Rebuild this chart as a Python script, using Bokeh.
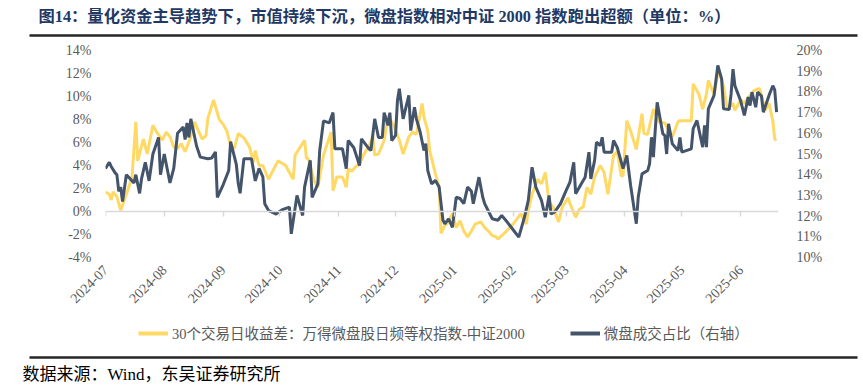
import math
import pandas as pd
from bokeh.plotting import figure
from bokeh.layouts import column
from bokeh.models import (Range1d, LinearAxis, DatetimeAxis, FixedTicker, PrintfTickFormatter,
                          DatetimeTickFormatter, Legend, LegendItem, Label)
from bokeh.embed import file_html
from bokeh.resources import INLINE

title_text = "图14：量化资金主导趋势下，市值持续下沉，微盘指数相对中证 2000 指数跑出超额（单位：%）"
source_text = "数据来源：Wind，东吴证券研究所"
series_names = ["30个交易日收益差：万得微盘股日频等权指数-中证2000", "微盘成交占比（右轴）"]
month_labels = ["2024-07", "2024-08", "2024-09", "2024-10", "2024-11", "2024-12",
                "2025-01", "2025-02", "2025-03", "2025-04", "2025-05", "2025-06"]
left_ticks = [-4, -2, 0, 2, 4, 6, 8, 10, 12, 14]
right_ticks = [10, 11, 12, 13, 14, 15, 16, 17, 18, 19, 20]

spread_dates = [
    "2024-07-01", "2024-07-03", "2024-07-04", "2024-07-05", "2024-07-06", "2024-07-07", "2024-07-09", "2024-07-12", "2024-07-15", "2024-07-17",
    "2024-07-18", "2024-07-21", "2024-07-23", "2024-07-26", "2024-07-28", "2024-07-31", "2024-08-02", "2024-08-04", "2024-08-06", "2024-08-08",
    "2024-08-10", "2024-08-12", "2024-08-15", "2024-08-17", "2024-08-19", "2024-08-21", "2024-08-23", "2024-08-24", "2024-08-27", "2024-08-30",
    "2024-09-01", "2024-09-03", "2024-09-05", "2024-09-07", "2024-09-09", "2024-09-12", "2024-09-15", "2024-09-17", "2024-09-18", "2024-09-20",
    "2024-09-22", "2024-09-25", "2024-09-30", "2024-10-04", "2024-10-08", "2024-10-09", "2024-10-14", "2024-10-15", "2024-10-16", "2024-10-19",
    "2024-10-21", "2024-10-24", "2024-10-28", "2024-10-29", "2024-10-31", "2024-11-03", "2024-11-05", "2024-11-06", "2024-11-08", "2024-11-10",
    "2024-11-12", "2024-11-14", "2024-11-17", "2024-11-19", "2024-11-20", "2024-11-22", "2024-11-25", "2024-11-27", "2024-11-30", "2024-12-03",
    "2024-12-05", "2024-12-08", "2024-12-10", "2024-12-12", "2024-12-15", "2024-12-16", "2024-12-18", "2024-12-19", "2024-12-22", "2024-12-24",
    "2024-12-25", "2024-12-27", "2024-12-28", "2024-12-31", "2025-01-02", "2025-01-04", "2025-01-06", "2025-01-08", "2025-01-10", "2025-01-12",
    "2025-01-15", "2025-01-17", "2025-01-19", "2025-01-21", "2025-01-23", "2025-01-24", "2025-01-28", "2025-02-01", "2025-02-05", "2025-02-08",
    "2025-02-09", "2025-02-11", "2025-02-14", "2025-02-16", "2025-02-18", "2025-02-20", "2025-02-22", "2025-02-25", "2025-02-27", "2025-03-02",
    "2025-03-03", "2025-03-06", "2025-03-08", "2025-03-10", "2025-03-12", "2025-03-14", "2025-03-16", "2025-03-19", "2025-03-21", "2025-03-23",
    "2025-03-26", "2025-03-28", "2025-03-30", "2025-03-31", "2025-04-02", "2025-04-04", "2025-04-07", "2025-04-10", "2025-04-11", "2025-04-13",
    "2025-04-16", "2025-04-19", "2025-04-22", "2025-04-26", "2025-04-29", "2025-04-30", "2025-05-06", "2025-05-07", "2025-05-10", "2025-05-12",
    "2025-05-14", "2025-05-15", "2025-05-18", "2025-05-20", "2025-05-21", "2025-05-23", "2025-05-25", "2025-05-28", "2025-05-29", "2025-06-01",
    "2025-06-03", "2025-06-05", "2025-06-08", "2025-06-11", "2025-06-12", "2025-06-14", "2025-06-16", "2025-06-18", "2025-06-19", "2025-06-20",
]
spread_values = [
    1.7, 1.5, 1.0, 1.7, 1.5, 1.3, 0.1, 1.5, 3.0, 7.8,
    4.4, 6.3, 5.0, 7.5, 6.9, 6.2, 6.9, 6.5, 5.6, 5.5,
    5.9, 5.2, 6.5, 7.8, 7.0, 6.3, 6.6, 8.1, 9.7, 8.0,
    7.6, 7.0, 5.7, 5.5, 6.8, 6.4, 5.6, 4.3, 5.3, 4.0,
    4.0, 2.8, 4.4, 4.0, 2.8, 4.9, 6.2, 4.6, 4.6, 2.7,
    2.1, 4.9, 6.9, 1.8, 3.0, 3.0, 2.1, 3.7, 3.5, 3.9,
    4.1, 4.9, 5.7, 6.5, 4.9, 5.0, 6.2, 8.3, 7.5, 6.2,
    5.0, 6.5, 6.9, 6.7, 9.4, 8.2, 7.0, 5.3, 3.3, 2.1,
    -1.9, -1.2, -1.1, -0.2, -1.4, -0.8, -1.7, -2.2, -1.7, -1.1,
    -0.9, -1.4, -1.7, -2.1, -2.2, -2.4, -1.8, -1.1, -0.2, -1.1,
    0.1, 1.5, 2.8, 2.4, 3.4, 0.8, 0.4, -0.9, 0.4, 1.2,
    0.7, -0.5, 0.2, 0.4, 2.1, 1.5, 3.0, 4.0, 3.4, 1.5,
    4.9, 5.2, 3.1, 3.1, 7.9, 7.0, 5.4, 8.5, 6.8, 6.7,
    8.9, 7.8, 7.7, 6.5, 7.8, 7.9, 7.9, 11.1, 10.2, 8.9,
    10.2, 11.4, 10.2, 12.0, 12.0, 10.9, 8.9, 9.4, 8.8, 9.7,
    9.4, 9.9, 10.5, 10.7, 10.1, 8.8, 9.4, 7.9, 6.3, 6.2,
]

share_dates = [
    "2024-07-01", "2024-07-03", "2024-07-04", "2024-07-06", "2024-07-07", "2024-07-08", "2024-07-09", "2024-07-10", "2024-07-12", "2024-07-14",
    "2024-07-16", "2024-07-17", "2024-07-19", "2024-07-20", "2024-07-22", "2024-07-24", "2024-07-26", "2024-07-29", "2024-07-30", "2024-08-01",
    "2024-08-04", "2024-08-06", "2024-08-08", "2024-08-11", "2024-08-12", "2024-08-13", "2024-08-14", "2024-08-15", "2024-08-18", "2024-08-20",
    "2024-08-24", "2024-08-26", "2024-08-28", "2024-08-29", "2024-09-01", "2024-09-04", "2024-09-05", "2024-09-08", "2024-09-09", "2024-09-10",
    "2024-09-12", "2024-09-16", "2024-09-18", "2024-09-20", "2024-09-22", "2024-09-23", "2024-09-25", "2024-09-29", "2024-10-02", "2024-10-06",
    "2024-10-07", "2024-10-10", "2024-10-13", "2024-10-14", "2024-10-17", "2024-10-18", "2024-10-21", "2024-10-22", "2024-10-24", "2024-10-27",
    "2024-10-29", "2024-10-30", "2024-11-03", "2024-11-05", "2024-11-06", "2024-11-09", "2024-11-12", "2024-11-13", "2024-11-17", "2024-11-18",
    "2024-11-20", "2024-11-22", "2024-11-24", "2024-11-25", "2024-11-27", "2024-11-28", "2024-11-29", "2024-12-01", "2024-12-02", "2024-12-03",
    "2024-12-05", "2024-12-08", "2024-12-09", "2024-12-11", "2024-12-12", "2024-12-14", "2024-12-16", "2024-12-17", "2024-12-18", "2024-12-20",
    "2024-12-22", "2024-12-24", "2024-12-26", "2024-12-27", "2024-12-29", "2024-12-31", "2025-01-02", "2025-01-04", "2025-01-06", "2025-01-08",
    "2025-01-10", "2025-01-11", "2025-01-14", "2025-01-16", "2025-01-17", "2025-01-21", "2025-01-24", "2025-01-26", "2025-01-29", "2025-01-31",
    "2025-02-04", "2025-02-07", "2025-02-09", "2025-02-11", "2025-02-13", "2025-02-16", "2025-02-18", "2025-02-20", "2025-02-21", "2025-02-23",
    "2025-02-26", "2025-03-01", "2025-03-03", "2025-03-05", "2025-03-06", "2025-03-09", "2025-03-11", "2025-03-13", "2025-03-14", "2025-03-16",
    "2025-03-17", "2025-03-19", "2025-03-20", "2025-03-21", "2025-03-25", "2025-03-26", "2025-03-28", "2025-03-31", "2025-04-02", "2025-04-04",
    "2025-04-07", "2025-04-08", "2025-04-10", "2025-04-13", "2025-04-14", "2025-04-15", "2025-04-16", "2025-04-18", "2025-04-21", "2025-04-22",
    "2025-04-23", "2025-04-24", "2025-04-26", "2025-04-29", "2025-04-30", "2025-05-01", "2025-05-06", "2025-05-07", "2025-05-09", "2025-05-12",
    "2025-05-13", "2025-05-14", "2025-05-15", "2025-05-18", "2025-05-20", "2025-05-22", "2025-05-23", "2025-05-26", "2025-05-27", "2025-05-28",
    "2025-05-29", "2025-06-01", "2025-06-03", "2025-06-05", "2025-06-06", "2025-06-07", "2025-06-09", "2025-06-10", "2025-06-12", "2025-06-13",
    "2025-06-16", "2025-06-18", "2025-06-19", "2025-06-20",
]
share_values = [
    14.3, 14.6, 14.4, 14.1, 14.0, 13.2, 13.4, 12.7, 14.0, 13.8,
    13.6, 14.0, 13.1, 13.8, 14.6, 13.7, 15.0, 15.8, 14.0, 15.0,
    13.6, 14.3, 16.0, 16.3, 15.7, 16.5, 15.8, 16.7, 15.4, 14.85,
    14.77, 14.8, 15.1, 12.9, 13.5, 14.2, 15.6, 14.5, 13.6, 13.1,
    14.77, 14.77, 13.7, 14.3, 13.9, 12.6, 12.27, 12.1, 12.3, 12.43,
    11.14, 13.0, 12.03, 13.4, 14.7, 12.9, 13.56, 15.17, 16.6, 16.5,
    17.0, 15.25, 15.25, 14.29, 15.65, 15.3, 14.44, 15.73, 15.25, 15.17,
    16.7, 15.8, 15.8, 17.0, 16.38, 17.0, 15.65, 15.9, 17.58, 18.15,
    16.7, 17.83, 16.13, 17.26, 16.7, 16.05, 15.17, 15.5, 14.2, 13.56,
    13.72, 13.4, 11.8, 11.63, 11.87, 11.46, 12.91, 12.85, 12.6, 13.4,
    13.2, 12.6, 13.88, 12.91, 12.6, 11.87, 11.8, 12.03, 11.7, 11.46,
    10.98, 11.95, 12.75, 14.36, 13.4, 12.75, 11.95, 13.0, 12.1, 12.2,
    12.6, 13.24, 13.64, 14.6, 13.08, 13.56, 13.88, 15.09, 13.8, 14.69,
    15.57, 15.4, 15.81, 15.09, 15.09, 15.65, 15.3, 14.29, 14.93, 13.48,
    11.63, 12.91, 14.04, 14.2, 14.53, 15.81, 14.85, 17.5, 15.97, 15.9,
    15.0, 16.46, 15.49, 15.17, 15.8, 15.09, 15.25, 16.22, 16.62, 15.33,
    16.38, 15.33, 17.18, 17.83, 19.28, 18.63, 17.18, 17.15, 17.9, 19.1,
    18.3, 17.58, 16.86, 17.75, 17.34, 17.99, 17.26, 17.99, 17.8, 17.02,
    17.83, 18.3, 18.1, 17.02,
]

YELLOW = "#FFD966"
NAVY = "#44546A"
GRAY = "#595959"
RULE = "#262626"
SERIF = "Liberation Serif, Noto Sans CJK SC"
W = 863
NAN = float("nan")


def blank_fig(h):
    # plain strip whose data units equal pixels (y measured upward from the strip's bottom)
    f = figure(width=W, height=h, output_backend="svg", toolbar_location=None,
               x_range=Range1d(0, W), y_range=Range1d(0, h),
               x_axis_location=None, y_axis_location=None,
               min_border_left=0, min_border_right=0, min_border_top=0, min_border_bottom=0)
    f.frame_align = False
    f.outline_line_color = None
    f.xgrid.visible = False
    f.ygrid.visible = False
    return f


def add_rule(f, y):
    # horizontal rule drawn as a bounded, tick-less axis line
    ax = LinearAxis(fixed_location=y, bounds=(29, 857), ticker=FixedTicker(ticks=[]))
    ax.axis_line_color = RULE
    ax.axis_line_width = 2.5
    ax.major_tick_line_color = None
    ax.minor_tick_line_color = None
    ax.major_tick_in = 0
    ax.major_tick_out = 0
    ax.major_label_standoff = 0
    ax.major_label_text_font_size = "0px"
    f.add_layout(ax, "below")


# ---------- title strip ----------
TH = 42
top = blank_fig(TH)
top.add_layout(Label(x=38, y=TH - 16, text=title_text, text_font=SERIF, text_font_size="16.3px",
                     text_font_style="bold", text_color="#1F3864",
                     text_baseline="middle", text_align="left"))
add_rule(top, TH - 34.75)

# ---------- main chart ----------
sd = pd.to_datetime(pd.Series(spread_dates))
hd = pd.to_datetime(pd.Series(share_dates))
month_ticks = [pd.Timestamp(m + "-01").value / 1e6 for m in month_labels]

p = figure(width=W, height=280, x_axis_type="datetime", output_backend="svg", toolbar_location=None,
           x_range=Range1d(sd.iloc[0], max(sd.iloc[-1], hd.iloc[-1]) + pd.Timedelta(days=1)),
           y_range=Range1d(left_ticks[0], left_ticks[-1]),
           min_border_left=105, min_border_right=85, min_border_top=8, min_border_bottom=65)
p.frame_align = False
p.outline_line_color = None
p.xgrid.visible = False
p.ygrid.visible = False
p.extra_y_ranges = {"right": Range1d(right_ticks[0], right_ticks[-1])}

xa = p.xaxis[0]
xa.ticker = FixedTicker(ticks=month_ticks)
fmt = "%Y-%m"
xa.formatter = DatetimeTickFormatter(years=fmt, months=fmt, days=fmt, hours=fmt, minutes=fmt,
                                     seconds=fmt, milliseconds=fmt, microseconds=fmt, hourmin=fmt,
                                     minsec=fmt)
xa.axis_line_color = None
xa.major_tick_line_color = None
xa.minor_tick_line_color = None
xa.major_label_orientation = math.pi / 4
xa.major_label_text_font = SERIF
xa.major_label_text_font_size = "14px"
xa.major_label_text_color = GRAY
xa.major_label_standoff = 4

za = DatetimeAxis(fixed_location=0, ticker=FixedTicker(ticks=month_ticks))
za.major_label_text_font_size = "0px"
za.major_label_text_alpha = 0
za.major_label_standoff = 0
za.axis_line_color = "#D9D9D9"
za.axis_line_width = 1.5
za.major_tick_line_color = "#D9D9D9"
za.major_tick_line_width = 1.5
za.major_tick_in = 0
za.major_tick_out = 5
za.minor_tick_line_color = None
p.add_layout(za, "below")

ya = p.yaxis[0]
ya.ticker = FixedTicker(ticks=left_ticks)
ya.formatter = PrintfTickFormatter(format="%d%%")
ya.axis_line_color = None
ya.major_tick_line_color = None
ya.minor_tick_line_color = None
ya.major_label_text_font = SERIF
ya.major_label_text_font_size = "14px"
ya.major_label_text_color = GRAY
ya.major_label_standoff = 8

ra = LinearAxis(y_range_name="right", ticker=FixedTicker(ticks=right_ticks),
                formatter=PrintfTickFormatter(format="%d%%"))
ra.axis_line_color = None
ra.major_tick_line_color = None
ra.minor_tick_line_color = None
ra.major_label_text_font = SERIF
ra.major_label_text_font_size = "14px"
ra.major_label_text_color = GRAY
ra.major_label_standoff = 12
p.add_layout(ra, "right")

p.line(sd, spread_values, color=YELLOW, line_width=3)
p.line(hd, share_values, color=NAVY, line_width=3, y_range_name="right")

# ---------- legend + source strip ----------
BH = 66
bot = blank_fig(BH)
k1 = bot.line(x=[NAN], y=[NAN], color=YELLOW, line_width=4)
k2 = bot.line(x=[NAN], y=[NAN], color=NAVY, line_width=4)
legend = Legend(items=[LegendItem(label=series_names[0], renderers=[k1]),
                       LegendItem(label=series_names[1], renderers=[k2])],
                orientation="horizontal", location=(138, 45))
legend.background_fill_alpha = 0
legend.border_line_color = None
legend.padding = 0
legend.margin = 0
legend.spacing = 45
legend.glyph_width = 30
legend.glyph_height = 20
legend.label_standoff = 4
legend.label_text_font = SERIF
legend.label_text_font_size = "14.5px"
legend.label_text_color = GRAY
legend.label_height = 20
bot.add_layout(legend, "center")
add_rule(bot, BH - 35.25)
bot.add_layout(Label(x=22, y=BH - 52, text=source_text, text_font=SERIF, text_font_size="17px",
                     text_color="#000000", text_baseline="middle", text_align="left"))

layout = column(top, p, bot, spacing=0)
open("out.html", "w").write(file_html(layout, INLINE))
